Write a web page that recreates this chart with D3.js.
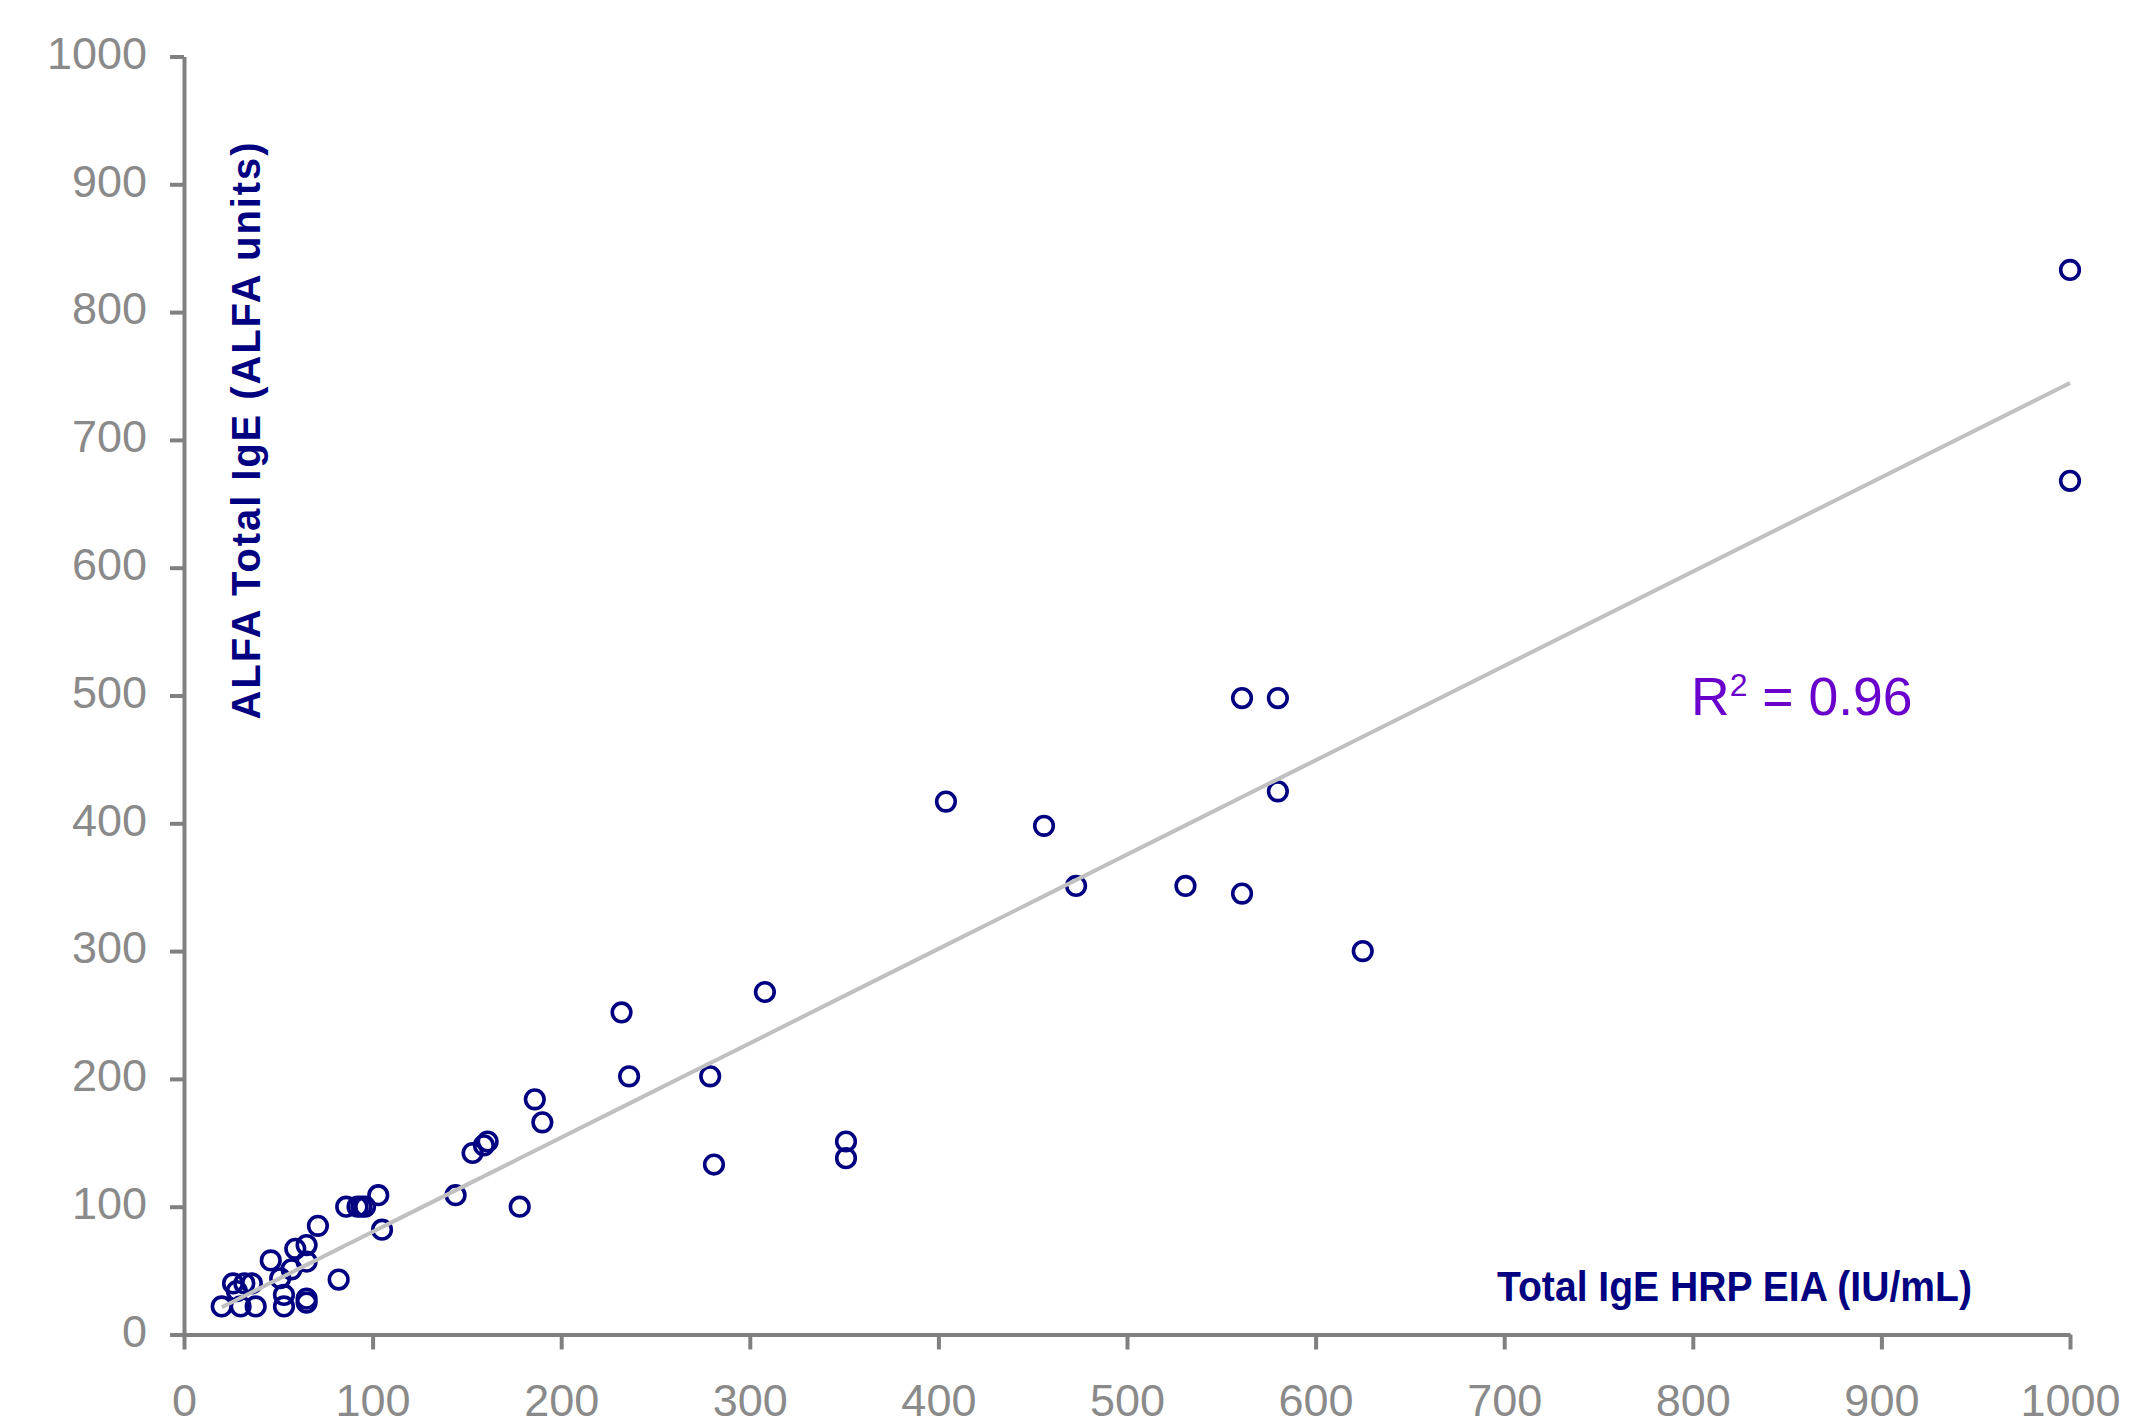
<!DOCTYPE html>
<html>
<head>
<meta charset="utf-8">
<script src="https://cdn.jsdelivr.net/npm/d3@7"></script>
<style>
  html, body { margin: 0; padding: 0; background: #ffffff; }
  svg { display: block; }
</style>
</head>
<body>
<svg id="chart" width="2154" height="1426"></svg>
<script>
// ---- data ----
const hrpEIA = [20, 26, 28, 30, 32, 36, 38, 46, 51, 53, 53, 57, 59, 65, 65, 65, 65, 71, 82, 86,
                92, 94, 96, 103, 105, 144, 153, 159, 161, 178, 186, 190, 232, 236, 279, 281, 308,
                351, 351, 404, 456, 473, 531, 561, 561, 580, 580, 625, 1000, 1000];
const alfaUnits = [22, 40, 34, 22, 40, 40, 22, 58, 44, 31, 22, 51, 67, 70, 57, 28, 25, 85, 43, 100,
                   100, 100, 100, 109, 82, 109, 142, 148, 151, 100, 184, 166, 252, 202, 202, 133, 268,
                   151, 138, 417, 398, 351, 351, 345, 498, 498, 425, 300, 833, 668];
const xTicks = [0, 100, 200, 300, 400, 500, 600, 700, 800, 900, 1000];
const yTicks = [0, 100, 200, 300, 400, 500, 600, 700, 800, 900, 1000];
const fitSlope = 0.738;
const fitIntercept = 6.5;
const r2Label = "0.96";
const xTitle = "Total IgE HRP EIA (IU/mL)";
const yTitle = "ALFA Total IgE (ALFA units)";

// ---- drawing ----
const svg = d3.select("#chart");
const FONT = "'Liberation Sans', Arial, sans-serif";
const AXIS_GREY = "#808080";
const LABEL_GREY = "#8a8a8a";
const NAVY = "#000080";

const x = d3.scaleLinear().domain([0, 1000]).range([184, 2070]);
const y = d3.scaleLinear().domain([0, 1000]).range([1334.5, 56.5]);
const fmt = d3.format("d");

// x axis
const gx = svg.append("g")
  .attr("transform", `translate(0,${y(0)})`)
  .call(d3.axisBottom(x).tickValues(xTicks).tickFormat(fmt).tickSize(15).tickSizeOuter(0).tickPadding(35));
gx.select(".domain").attr("stroke", AXIS_GREY).attr("stroke-width", 4);
gx.selectAll(".tick line").attr("stroke", AXIS_GREY).attr("stroke-width", 4);
gx.selectAll(".tick text").attr("fill", LABEL_GREY).attr("font-family", FONT).attr("font-size", 45);

// y axis
const gy = svg.append("g")
  .attr("transform", `translate(${x(0)},0)`)
  .call(d3.axisLeft(y).tickValues(yTicks).tickFormat(fmt).tickSize(14).tickSizeOuter(0).tickPadding(23));
gy.select(".domain").attr("stroke", AXIS_GREY).attr("stroke-width", 4);
gy.selectAll(".tick line").attr("stroke", AXIS_GREY).attr("stroke-width", 4);
gy.selectAll(".tick text").attr("fill", LABEL_GREY).attr("font-family", FONT).attr("font-size", 45)
  .attr("dy", "0.26em");

// points
const pts = hrpEIA.map((v, i) => ({ x: v, y: alfaUnits[i] }));
svg.append("g").selectAll("circle")
  .data(pts).join("circle")
  .attr("cx", d => x(d.x))
  .attr("cy", d => y(d.y))
  .attr("r", 9.3)
  .attr("fill", "none")
  .attr("stroke", NAVY)
  .attr("stroke-width", 3.6);

// trend line through the sorted data x values
const xs = Array.from(new Set(hrpEIA)).sort((a, b) => a - b);
const line = d3.line().x(d => x(d)).y(d => y(fitSlope * d + fitIntercept));
svg.append("path")
  .datum(xs)
  .attr("d", line)
  .attr("fill", "none")
  .attr("stroke", "#c0c0c0")
  .attr("stroke-width", 4);

// R^2 annotation
const rt = svg.append("text")
  .attr("x", 1691).attr("y", 715)
  .attr("font-family", FONT).attr("font-size", 53.5)
  .attr("fill", "#6a00cc");
rt.append("tspan").text("R");
rt.append("tspan").attr("font-size", 32).attr("dy", -19).text("2");
rt.append("tspan").attr("dy", 19).text(" = " + r2Label);

// axis titles
svg.append("text")
  .attr("x", 1497).attr("y", 1301)
  .attr("font-family", FONT).attr("font-weight", "bold").attr("font-size", 43)
  .attr("fill", NAVY)
  .attr("textLength", 475).attr("lengthAdjust", "spacingAndGlyphs")
  .text(xTitle);

svg.append("text")
  .attr("transform", "translate(260,431) rotate(-90)")
  .attr("text-anchor", "middle")
  .attr("font-family", FONT).attr("font-weight", "bold").attr("font-size", 40)
  .attr("fill", NAVY)
  .attr("textLength", 577).attr("lengthAdjust", "spacing")
  .text(yTitle);
</script>
</body>
</html>
